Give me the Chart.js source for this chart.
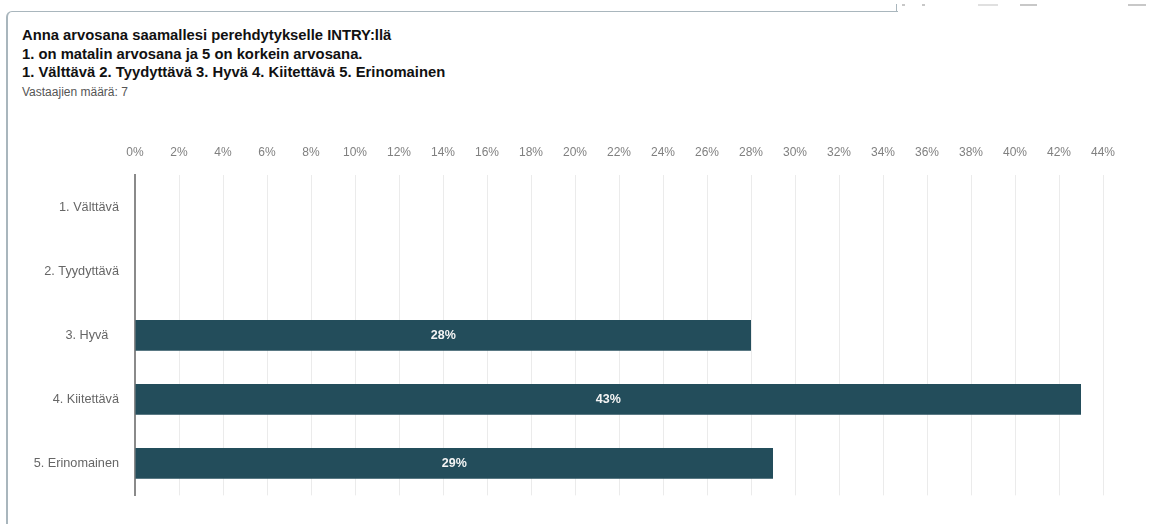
<!DOCTYPE html>
<html>
<head>
<meta charset="utf-8">
<script src="https://cdn.jsdelivr.net/npm/chart.js@4.4.1/dist/chart.umd.min.js"></script>
<style>
  body { margin: 0; background: #fff; font-family: 'Liberation Sans', Arial, sans-serif; }
  #page { position: relative; width: 1150px; height: 524px; overflow: hidden; }
  #card {
    position: absolute; left: 6px; top: 11px; width: 890px; height: 540px;
    border-left: 2px solid #a9b6bd; border-top: 1px solid #a9b6bd;
    border-top-left-radius: 6px;
  }
  #tick { position: absolute; left: 896px; top: 4px; width: 1px; height: 8px; background: #a9b6bd; }
  .dash { position: absolute; top: 4px; height: 2px; background: #c8c8c8; }
  #title { position: absolute; left: 22px; top: 26px; font-weight: bold; font-size: 14.8px; line-height: 18.5px; color: #111; }
  #count { position: absolute; left: 22px; top: 85px; font-size: 12px; color: #555; }
  #wrap { position: absolute; left: 0; top: 124px; width: 1150px; height: 387px; }
</style>
</head>
<body>
<div id="page">
  <div id="card"></div>
  <div id="tick"></div>
  <div class="dash" style="left:902px;width:3px"></div>
  <div class="dash" style="left:922px;width:3px"></div>
  <div class="dash" style="left:978px;width:20px;background:#e0e0e0"></div>
  <div class="dash" style="left:1020px;width:17px"></div>
  <div class="dash" style="left:1128px;width:18px"></div>
  <div id="title">Anna arvosana saamallesi perehdytykselle INTRY:llä<br>1. on matalin arvosana ja 5 on korkein arvosana.<br>1. Välttävä 2. Tyydyttävä 3. Hyvä 4. Kiitettävä 5. Erinomainen</div>
  <div id="count">Vastaajien määrä: 7</div>
  <div id="wrap"><canvas id="chart"></canvas></div>
</div>
<script>
var categories = ['1. Välttävä', '2. Tyydyttävä', '3. Hyvä   ', '4. Kiitettävä', '5. Erinomainen'];
var values = [0, 0, 28, 43, 29];
var axisMax = 44;
var axisStep = 2;

// prints the percentage in the middle of each bar
var barLabels = {
    id: 'barLabels',
    afterDatasetsDraw: function(chart) {
        var ctx = chart.ctx;
        var meta = chart.getDatasetMeta(0);
        ctx.save();
        ctx.fillStyle = '#f4f4f4';
        ctx.font = 'bold 12.5px "Liberation Sans", Arial, sans-serif';
        ctx.textAlign = 'center';
        ctx.textBaseline = 'middle';
        meta.data.forEach(function(bar, i) {
            if (!values[i]) return;
            ctx.fillText(values[i] + '%', (bar.x + bar.base) / 2, bar.y);
        });
        ctx.restore();
    }
};

var ctx = document.getElementById('chart').getContext('2d');
var myChart = new Chart(ctx, {
    type: 'bar',
    data: {
        labels: categories,
        datasets: [{
            data: values,
            backgroundColor: '#234d5b',
            borderColor: '#234d5b',
            borderWidth: 0,
            categoryPercentage: 1,
            barPercentage: 0.48
        }]
    },
    options: {
        indexAxis: 'y',
        responsive: true,
        maintainAspectRatio: false,
        animation: false,
        layout: { padding: { top: 5, right: 47, bottom: 13, left: 0 } },
        plugins: {
            legend: { display: false },
            tooltip: { enabled: false }
        },
        scales: {
            x: {
                position: 'top',
                min: 0,
                max: axisMax,
                border: { display: false },
                grid: { color: '#ebebeb', lineWidth: 1, drawTicks: false },
                ticks: {
                    stepSize: axisStep,
                    padding: 16,
                    color: '#808080',
                    font: { family: 'Liberation Sans', size: 12 },
                    callback: function(v) { return v + '%'; }
                }
            },
            y: {
                border: { display: true, color: '#8a8a8a', width: 2 },
                grid: { display: false },
                afterFit: function(s) { s.width = 135; },
                ticks: {
                    padding: 8,
                    color: '#666',
                    font: { family: 'Liberation Sans', size: 12.7 }
                }
            }
        }
    },
    plugins: [barLabels]
});
</script>
</body>
</html>
